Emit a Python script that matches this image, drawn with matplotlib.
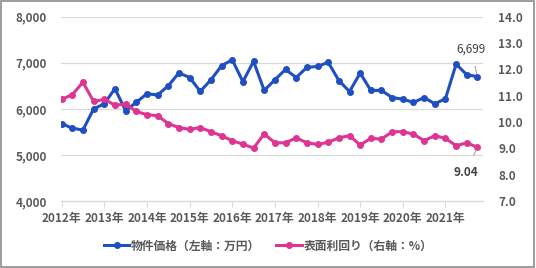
import matplotlib.pyplot as plt
from matplotlib.patches import Rectangle
from matplotlib.lines import Line2D

plt.rcParams['font.family'] = ['Noto Sans CJK JP', 'DejaVu Sans']

# --------------------------------------------------
# Data (quarterly, 2012 Q1 - 2021 Q4)
# --------------------------------------------------
years = ["2012年", "2013年", "2014年", "2015年", "2016年",
         "2017年", "2018年", "2019年", "2020年", "2021年"]

price = [5680, 5580, 5540, 6000, 6110, 6440, 5960, 6140, 6330, 6300,
         6500, 6780, 6680, 6380, 6630, 6935, 7065, 6590, 7030, 6400,
         6630, 6855, 6680, 6900, 6920, 7010, 6615, 6375, 6775, 6400,
         6400, 6245, 6210, 6140, 6245, 6110, 6220, 6970, 6740, 6699]

yield_pct = [10.86, 11.04, 11.51, 10.78, 10.86, 10.64, 10.68, 10.40, 10.28, 10.24,
             9.94, 9.79, 9.72, 9.79, 9.63, 9.48, 9.29, 9.16, 9.01, 9.55,
             9.21, 9.21, 9.40, 9.21, 9.15, 9.23, 9.40, 9.48, 9.13, 9.38,
             9.35, 9.63, 9.63, 9.54, 9.29, 9.48, 9.38, 9.10, 9.21, 9.04]

labels = ["物件価格（左軸：万円）", "表面利回り（右軸：%）"]

blue = "#1f4fc0"
pink = "#de3593"
grey_txt = "#595959"
grid_c = "#d9d9d9"

x = list(range(len(price)))

# --------------------------------------------------
# Plot
# --------------------------------------------------
fig = plt.figure(figsize=(5.36, 2.68), dpi=100)
ax = fig.add_axes([0.113, 0.25, 0.7877, 0.6877])
ax2 = ax.twinx()

ax.plot(x, price, color=blue, lw=2.2, marker="o", ms=4, zorder=3)
ax2.plot(x, yield_pct, color=pink, lw=2.2, marker="o", ms=4, zorder=3)

ax.set_xlim(-0.1, 39.5)
ax.set_ylim(4000, 8000)
ax2.set_ylim(7.0, 14.0)
ax.set_yticks([4000, 5000, 6000, 7000, 8000])
ax.set_yticklabels([f"{v:,}" for v in [4000, 5000, 6000, 7000, 8000]])
ax2.set_yticks([7, 8, 9, 10, 11, 12, 13, 14])
ax2.set_yticklabels([f"{v:.1f}" for v in range(7, 15)])

ax.set_xticks(x[::4])
ax.set_xticklabels(years)

ax.grid(axis="y", color=grid_c, lw=0.9)
ax.set_axisbelow(True)
for a in (ax, ax2):
    for s in ("top", "left", "right"):
        a.spines[s].set_visible(False)
    a.spines["bottom"].set_color(grid_c)
ax.tick_params(axis="y", length=0, pad=10, labelsize=8.5, labelcolor=grey_txt)
ax2.tick_params(axis="y", length=0, pad=11, labelsize=8.5, labelcolor=grey_txt)
ax.tick_params(axis="x", length=4, color=grid_c, pad=4, labelsize=8.5, labelcolor=grey_txt)
for t in ax.get_xticklabels() + ax.get_yticklabels() + ax2.get_yticklabels():
    t.set_fontweight("bold")

# end labels
ax.annotate("6,699", xy=(39, price[-1]), xytext=(38.4, 7300),
            ha="center", va="center", fontsize=8.5, color="#404040",
            arrowprops=dict(arrowstyle="-", color="#a6a6a6", lw=0.8, shrinkA=6, shrinkB=2))
ax2.annotate("9.04", xy=(39, yield_pct[-1]), xytext=(37.9, 8.1),
             ha="center", va="center", fontsize=8.5, color="#404040", fontweight="bold",
             arrowprops=dict(arrowstyle="-", color="#a6a6a6", lw=0.8, shrinkA=6, shrinkB=2))

handles = [Line2D([], [], color=blue, lw=2.2, marker="o", ms=4),
           Line2D([], [], color=pink, lw=2.2, marker="o", ms=4)]
leg = fig.legend(handles, labels, loc="center", bbox_to_anchor=(0.5, 0.082), ncol=2,
                 frameon=False, fontsize=8.5, handlelength=2.2, handletextpad=0.1,
                 columnspacing=1.4)
for t in leg.get_texts():
    t.set_color(grey_txt)
    t.set_fontweight("bold")

fig.patches.append(Rectangle((0.002, 0.004), 0.995, 0.992, transform=fig.transFigure,
                             fill=False, edgecolor="#8c8c8c", lw=1.2))

fig.savefig("out.png", dpi=100)
